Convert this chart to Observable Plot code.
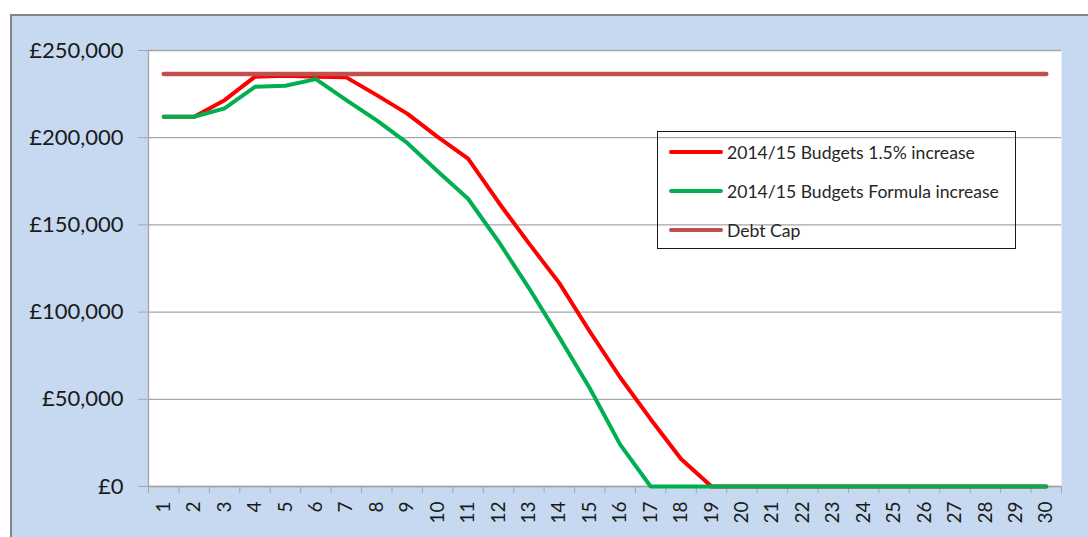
<!DOCTYPE html>
<html>
<head>
<meta charset="utf-8">
<script src="https://cdn.jsdelivr.net/npm/d3@7"></script>
<script src="https://cdn.jsdelivr.net/npm/@observablehq/plot@0.6"></script>
<style>
  html, body { margin: 0; padding: 0; background: #ffffff; }
  #wrap { position: relative; width: 1088px; height: 537px; overflow: hidden; font-family: Lato, "Open Sans", sans-serif; }
  #bg { position: absolute; left: 10px; top: 14px; width: 1090px; height: 540px; background: #c6d9f0; border-left: 2px solid #858585; border-top: 2px solid #858585; }
  #chart { position: absolute; left: 0; top: 0; }
  #chart svg { background: transparent; }
  #legend { position: absolute; left: 657px; top: 131px; width: 357px; height: 116px; border: 1px solid #1a1a1a; }
  .row { position: absolute; left: 0; height: 20px; display: flex; align-items: center; }
  .swatch { position: absolute; left: 11px; width: 54px; height: 4px; border-radius: 2px; }
  .lab { position: absolute; left: 69px; white-space: nowrap; font-size: 17.6px; color: #262626; }
</style>
</head>
<body>
<div id="wrap">
  <div id="bg"></div>
  <div id="chart"></div>
  <div id="legend"></div>
</div>
<script>
// ---- Data ----
const categories = [1,2,3,4,5,6,7,8,9,10,11,12,13,14,15,16,17,18,19,20,21,22,23,24,25,26,27,28,29,30];
const budgets15pct = [212000,212000,221500,235000,235500,235000,234600,224400,213800,200500,188000,163000,139400,116600,88900,62500,38600,15800,0,0,0,0,0,0,0,0,0,0,0,0];
const budgetsFormula = [212000,212000,216800,229200,229800,233600,221600,209900,197000,180800,165000,140500,113800,85500,56300,24000,0,0,0,0,0,0,0,0,0,0,0,0,0,0];
const debtCap = [236500,236500,236500,236500,236500,236500,236500,236500,236500,236500,236500,236500,236500,236500,236500,236500,236500,236500,236500,236500,236500,236500,236500,236500,236500,236500,236500,236500,236500,236500];
const yTicks = [0, 50000, 100000, 150000, 200000, 250000];
const seriesNames = ["2014/15 Budgets 1.5% increase", "2014/15 Budgets Formula increase", "Debt Cap"];
const seriesColors = ["#ff0000", "#00b050", "#c0504d"];

const toRows = (vals) => categories.map((c, i) => ({cat: c, value: vals[i]}));
const redRows = toRows(budgets15pct);
const greenRows = toRows(budgetsFormula);
const capRows = toRows(debtCap);
// category boundaries for tick marks (between categories, as in the original)
const boundaries = [categories[0] - 0.5, ...categories.map(c => c + 0.5)];

const gridColor = "#a6a6a6";
const fmt = d => "£" + d3.format(",")(d);

const chart = Plot.plot({
  width: 1088,
  height: 537,
  marginLeft: 148,
  marginRight: 27,
  marginTop: 50,
  marginBottom: 51,
  style: {background: "transparent", fontFamily: "Lato, 'Open Sans', sans-serif", overflow: "visible"},
  x: {type: "linear", domain: [categories[0] - 0.5, categories[categories.length - 1] + 0.5]},
  y: {domain: [0, 250000]},
  marks: [
    Plot.frame({fill: "white", stroke: "none"}),
    Plot.gridY(yTicks, {stroke: gridColor, strokeOpacity: 1, strokeWidth: 1.3}),
    Plot.ruleX([boundaries[0]], {stroke: gridColor, strokeWidth: 1.3}),
    Plot.ruleY([0], {stroke: gridColor, strokeWidth: 1.3}),
    Plot.axisY({ticks: yTicks, tickSize: 10, tickPadding: 15, tickFormat: fmt, fontSize: 22, stroke: gridColor, fill: "#1a1a1a", label: null}),
    Plot.axisX({ticks: boundaries, tickSize: 7, tickFormat: () => "", stroke: gridColor, label: null}),
    Plot.axisX({ticks: categories, tickSize: 0, tickPadding: 15, tickRotate: -90, fontSize: 19, fill: "#1a1a1a", label: null, tickFormat: d => String(d)}),
    Plot.line(redRows, {x: "cat", y: "value", stroke: seriesColors[0], strokeWidth: 4, strokeLinecap: "round", strokeLinejoin: "round"}),
    Plot.line(greenRows, {x: "cat", y: "value", stroke: seriesColors[1], strokeWidth: 4, strokeLinecap: "round", strokeLinejoin: "round"}),
    Plot.line(capRows, {x: "cat", y: "value", stroke: seriesColors[2], strokeWidth: 4.5, strokeLinecap: "round", strokeLinejoin: "round"})
  ]
});
document.getElementById("chart").appendChild(chart);

// Legend (transparent box, as in the reference)
const legend = document.getElementById("legend");
const rowTops = [10, 49, 88];
seriesNames.forEach((name, i) => {
  const row = document.createElement("div");
  row.className = "row";
  row.style.top = rowTops[i] + "px";
  row.style.width = "100%";
  const sw = document.createElement("div");
  sw.className = "swatch";
  sw.style.background = seriesColors[i];
  const lab = document.createElement("span");
  lab.className = "lab";
  lab.textContent = name;
  row.appendChild(sw);
  row.appendChild(lab);
  legend.appendChild(row);
});
</script>
</body>
</html>
